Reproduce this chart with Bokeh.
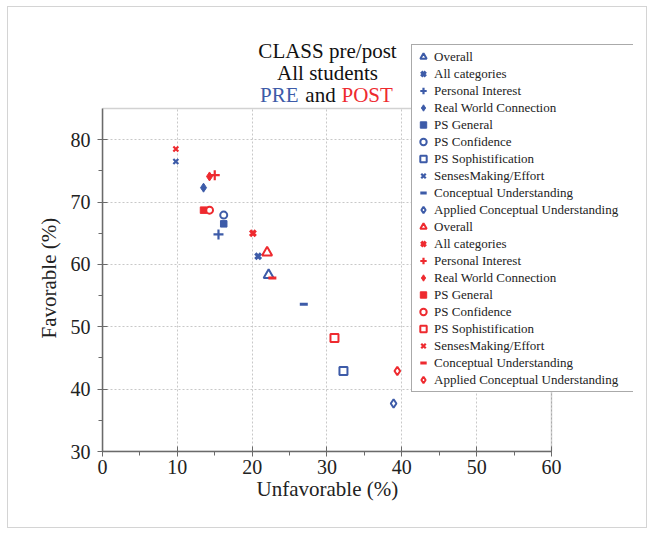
from bokeh.plotting import figure
from bokeh.models import (Legend, LegendItem, Label, FixedTicker, BoxAnnotation,
                          ColumnDataSource, Grid, Title)
from bokeh.embed import file_html
from bokeh.resources import INLINE

categories = ["Overall", "All categories", "Personal Interest", "Real World Connection",
              "PS General", "PS Confidence", "PS Sophistification", "SensesMaking/Effort",
              "Conceptual Understanding", "Applied Conceptual Understanding"]
pre_unfav = [22.2, 20.8, 15.5, 13.5, 16.2, 16.2, 32.2, 9.8, 26.9, 38.9]
pre_fav = [58.3, 61.3, 64.8, 72.3, 66.5, 67.9, 42.9, 76.5, 53.6, 37.7]
post_unfav = [22.0, 20.1, 15.0, 14.3, 13.5, 14.3, 31.0, 9.8, 22.7, 39.4]
post_fav = [61.9, 65.0, 74.3, 74.1, 68.7, 68.7, 48.2, 78.5, 57.8, 42.9]
x_ticks = [0, 10, 20, 30, 40, 50, 60]
y_ticks = [30, 40, 50, 60, 70, 80]
x_lim = (0, 60)
y_lim = (30, 85)

BLUE = "#3d5ba8"
RED = "#ee2a2f"
AXC = "#6a6a6a"
FONT = "Liberation Serif"

# marker style per category: (marker, size, filled, line_width)
styles = [
    ("triangle", 10, False, 2),
    ("x", 8, False, 3.2),
    ("cross", 10, False, 2.2),
    ("diamond", 9, True, 1),
    ("square", 6.5, True, 1),
    ("circle", 7, False, 2),
    ("square", 8, False, 2),
    ("x", 7, False, 2.2),
    ("dash", 8, False, 3),
    ("diamond", 8.5, False, 2),
]

# frame is widened so the legend and title (which overhang the axes box) are not clipped
p = figure(frame_width=531, frame_height=416, min_border_left=94, min_border_top=28,
           min_border_right=13, min_border_bottom=76,
           x_range=(0, 70.96), y_range=(30, 96.7), output_backend="svg",
           toolbar_location=None, background_fill_color="white",
           border_fill_color="white")
p.styles = {"border": "1px solid #d4d4d4", "margin-left": "7px", "margin-top": "6px"}
p.outline_line_color = None

for ax, ticks, lim in ((p.xaxis[0], x_ticks, x_lim), (p.yaxis[0], y_ticks, y_lim)):
    ax.ticker = FixedTicker(ticks=ticks, minor_ticks=[t + 5 for t in ticks[:-1]])
    ax.bounds = lim
    ax.axis_line_color = AXC
    ax.axis_line_width = 1.5
    ax.major_tick_line_color = AXC
    ax.minor_tick_line_color = AXC
    ax.major_tick_in = 5
    ax.major_tick_out = 5
    ax.minor_tick_in = 0
    ax.minor_tick_out = 4
    ax.major_label_text_font = FONT
    ax.major_label_text_font_size = "20px"
    ax.major_label_text_color = "#222222"

p.xaxis.major_label_standoff = 3
p.yaxis.major_label_standoff = 7

# axis titles, aligned with the axes box rather than the widened frame
xt = Title(text="Unfavorable (%)", align="left", offset=154, text_font=FONT,
           text_font_size="21px", text_font_style="normal", text_color="#222222",
           vertical_align="top", standoff=0)
p.add_layout(xt, "below")
yt = Title(text="Favorable (%)", align="left", offset=113, text_font=FONT,
           text_font_size="21px", text_font_style="normal", text_color="#222222",
           standoff=14)
p.add_layout(yt, "left")

has_cross = "cross_bounds" in Grid.properties()
p.xgrid[0].ticker = FixedTicker(ticks=x_ticks)
p.ygrid[0].ticker = FixedTicker(ticks=y_ticks)
for g, cb in ((p.xgrid[0], y_lim), (p.ygrid[0], x_lim)):
    g.grid_line_color = "#c8c8c8"
    g.grid_line_dash = "2 2"
    g.grid_line_width = 1
    if has_cross:
        g.cross_bounds = cb
    else:
        g.grid_line_color = None
if not has_cross:
    p.segment(x0=x_ticks, y0=[y_lim[0]] * len(x_ticks), x1=x_ticks,
              y1=[y_lim[1]] * len(x_ticks), line_color="#c8c8c8", line_dash="2 2",
              level="underlay")
    p.segment(x0=[x_lim[0]] * len(y_ticks), y0=y_ticks, x1=[x_lim[1]] * len(y_ticks),
              y1=y_ticks, line_color="#c8c8c8", line_dash="2 2", level="underlay")

# axes box (top/right sides)
p.add_layout(BoxAnnotation(left=x_lim[0], right=x_lim[1], bottom=y_lim[0], top=y_lim[1],
                           fill_alpha=0, line_color=AXC, line_width=1.5))

items = []
for series, color, xs, ys in (("PRE", BLUE, pre_unfav, pre_fav),
                              ("POST", RED, post_unfav, post_fav)):
    for i, cat in enumerate(categories):
        marker, size, filled, lw = styles[i]
        src = ColumnDataSource(dict(x=[xs[i]], y=[ys[i]]))
        r = p.scatter("x", "y", source=src, marker=marker, size=size,
                      line_color=color, line_width=lw,
                      fill_color=color if filled else "white",
                      fill_alpha=1.0 if filled else 0.0)
        items.append(LegendItem(label=cat, renderers=[r]))

legend = Legend(items=items, location=(309, 59), orientation="vertical",
                label_text_font=FONT, label_text_font_size="13px",
                label_text_color="#222222",
                glyph_height=17, glyph_width=16, label_height=17, label_width=197,
                label_standoff=3, spacing=0, padding=3, margin=0,
                border_line_color="#555555", border_line_width=1,
                background_fill_color="white", background_fill_alpha=1.0)
p.add_layout(legend, "center")

title_kw = dict(x_units="screen", y_units="screen", text_font=FONT,
                text_font_size="21px", text_baseline="alphabetic")
p.add_layout(Label(x=225, y=401, text="CLASS pre/post", text_align="center",
                   text_color="#111111", **title_kw))
p.add_layout(Label(x=225, y=379, text="All students", text_align="center",
                   text_color="#111111", **title_kw))
p.add_layout(Label(x=196, y=357, text="PRE", text_align="right",
                   text_color=BLUE, **title_kw))
p.add_layout(Label(x=218, y=357, text="and", text_align="center",
                   text_color="#111111", **title_kw))
p.add_layout(Label(x=239, y=357, text="POST", text_align="left",
                   text_color=RED, **title_kw))

open("out.html", "w").write(file_html(p, INLINE))
